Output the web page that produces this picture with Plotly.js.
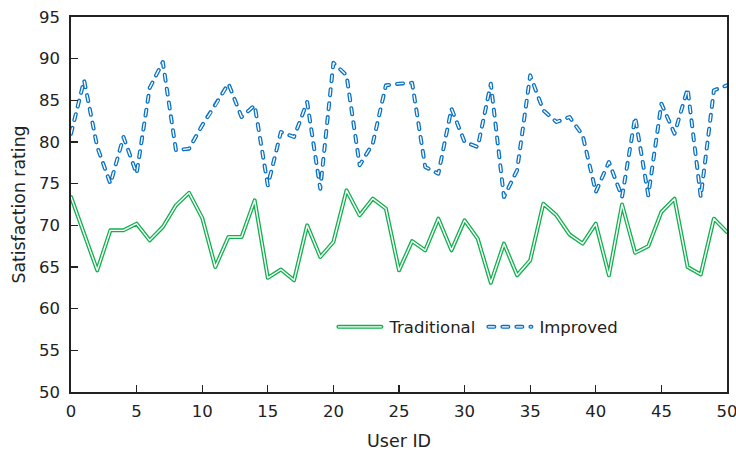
<!DOCTYPE html>
<html>
<head>
<meta charset="utf-8">
<script src="https://cdn.plot.ly/plotly-3.0.1.min.js"></script>
<style>html,body{margin:0;padding:0;background:#fff;}#chart{width:736px;height:455px;}</style>
</head>
<body>
<div id="chart"></div>
<script>
const userIds = [0,1,2,3,4,5,6,7,8,9,10,11,12,13,14,15,16,17,18,19,20,21,22,23,24,25,26,27,28,29,30,31,32,33,34,35,36,37,38,39,40,41,42,43,44,45,46,47,48,49,50];
const traditional = [73.4,68.9,64.6,69.4,69.4,70.2,68.2,69.8,72.4,73.9,70.9,65.0,68.6,68.6,73.0,63.7,64.7,63.4,70.0,66.2,68.0,74.2,71.2,73.2,72.0,64.6,68.1,67.0,70.8,67.0,70.6,68.4,63.1,67.8,64.0,65.8,72.6,71.2,68.9,67.8,70.2,64.0,72.5,66.7,67.5,71.6,73.2,65.0,64.1,70.8,69.2];
const improved = [81.0,87.4,79.4,75.0,80.6,76.2,86.5,89.6,79.0,79.2,82.0,84.4,87.0,83.0,84.4,74.8,81.2,80.6,84.8,74.4,89.5,88.0,77.2,79.8,86.8,87.0,87.1,77.0,76.2,84.0,80.0,79.4,87.0,73.4,76.6,88.0,83.8,82.4,83.0,80.8,74.0,77.6,73.4,83.0,73.6,84.6,81.0,86.4,73.4,86.2,86.8];
const seriesNames = ['Traditional','Improved'];
const green = '#12b04e', blue = '#0a72c6';
const dashPat = '6px,8px';
const FONT = 'DejaVu Sans';

const traces = [
  {x:userIds, y:traditional, type:'scatter', mode:'lines', name:seriesNames[0], line:{color:green, width:4}, showlegend:true},
  {x:userIds, y:traditional, type:'scatter', mode:'lines', name:seriesNames[0], line:{color:'#ffffff', width:1.4}, showlegend:false, hoverinfo:'skip'},
  {x:userIds, y:improved, type:'scatter', mode:'lines', name:seriesNames[1], line:{color:blue, width:4, dash:dashPat}, showlegend:true},
  {x:userIds, y:improved, type:'scatter', mode:'lines', name:seriesNames[1], line:{color:'#ffffff', width:1.4, dash:dashPat}, showlegend:false, hoverinfo:'skip'}
];

const axisCommon = {
  showgrid:false, zeroline:false, showline:true, linecolor:'#222', linewidth:1.6, mirror:true,
  ticks:'inside', ticklen:7, tickwidth:1.3, tickcolor:'#222', ticklabeloverflow:'allow',
  tickfont:{family:FONT, size:16.5, color:'#222'}
};

const layout = {
  width:736, height:455,
  margin:{l:71, r:9, t:17, b:63},
  paper_bgcolor:'#fff', plot_bgcolor:'#fff',
  font:{family:FONT, size:16.5, color:'#222'},
  xaxis:Object.assign({}, axisCommon, {range:[0,50], dtick:5, tick0:0, ticklabelstandoff:4,
    title:{text:'User ID', font:{family:FONT, size:17.5, color:'#222'}, standoff:14}}),
  yaxis:Object.assign({}, axisCommon, {range:[50,95], dtick:5, tick0:50, ticklabelstandoff:6,
    title:{text:'Satisfaction rating', font:{family:FONT, size:17.3, color:'#222'}, standoff:9}}),
  legend:{orientation:'h', x:0.40, xanchor:'left', y:0.173, yanchor:'middle', bgcolor:'rgba(0,0,0,0)',
    font:{family:FONT, size:16.5, color:'#222'}, itemwidth:30, tracegroupgap:0},
  showlegend:true
};

Plotly.newPlot('chart', traces, layout, {displayModeBar:false, staticPlot:true}).then(gd => {
  gd.querySelectorAll('.scatterlayer .js-line').forEach(p => {
    p.style.strokeLinecap = 'round';
    p.style.strokeLinejoin = 'round';
  });
  try {
    const sb = gd.querySelector('.legend .scrollbox');
    if (sb) sb.removeAttribute('clip-path');
    const items = gd.querySelectorAll('.legend .traces');
    let x0 = null, y0 = null;
    items.forEach((g, i) => {
      g.querySelectorAll('.legendlines path').forEach(p => {
        p.setAttribute('d', 'M5,0h43');
        p.style.strokeLinecap = 'round';
        const c = p.cloneNode(true);
        c.style.stroke = '#ffffff';
        c.style.strokeWidth = '1.4px';
        c.style.strokeLinecap = 'round';
        p.parentNode.appendChild(c);
      });
      const t = g.querySelector('text.legendtext');
      if (t) t.setAttribute('x', '56');
      const tr = g.getAttribute('transform') || '';
      const m = tr.match(/translate\(\s*([-\d.]+)[ ,]+([-\d.]+)\s*\)/);
      if (m) {
        if (i === 0) { x0 = parseFloat(m[1]); y0 = m[2]; }
        else if (x0 !== null) g.setAttribute('transform', 'translate(' + (x0 + 150 * i) + ',' + m[2] + ')');
      }
    });
  } catch (e) {}
});
</script>
</body>
</html>
